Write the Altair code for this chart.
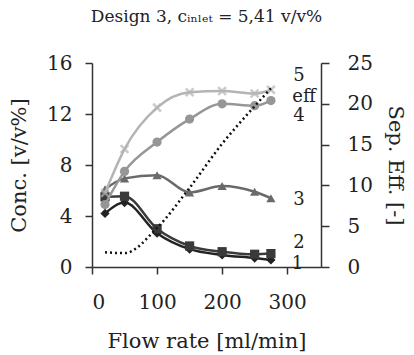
import altair as alt
import pandas as pd

flow = [20, 50, 100, 150, 200, 250, 275]
s1 = [4.2, 5.05, 2.65, 1.4, 0.95, 0.7, 0.55]
s2 = [5.5, 5.55, 3.0, 1.65, 1.2, 1.0, 1.05]
s3 = [6.1, 6.95, 7.2, 5.85, 6.35, 5.9, 5.4]
s4 = [4.9, 7.5, 9.8, 11.6, 12.8, 12.65, 13.05]
s5 = [5.8, 9.25, 12.5, 13.7, 13.8, 13.6, 13.9]
eff = [1.8, 1.7, 4.8, 9.7, 15.1, 19.7, 21.9]

label_text = ["5", "eff", "4", "3", "2", "1"]
label_x = [318, 326, 318, 318, 318, 316]
label_y = [14.95, 13.35, 11.85, 5.25, 1.85, 0.25]

FONT = "DejaVu Serif"

series = [
    ("1", s1, "#222222", "diamond"),
    ("2", s2, "#3a3a3a", "square"),
    ("3", s3, "#6a6a6a", "triangle-up"),
    ("4", s4, "#969696", "circle"),
    ("5", s5, "#b4b4b4", "M-1,-1L1,1M-1,1L1,-1"),
]

xscale = alt.Scale(domain=[0, 352], nice=False)
yl = alt.Scale(domain=[0, 16], nice=False)
yr = alt.Scale(domain=[0, 25], nice=False)

xaxis = alt.Axis(values=[0, 100, 200, 300], title="Flow rate [ml/min]", grid=False,
                 tickSize=7, labelPadding=18, titlePadding=18)
yaxis_l = alt.Axis(values=[0, 4, 8, 12, 16], title="Conc. [v/v%]", grid=False,
                   tickSize=7, labelPadding=13, titlePadding=17, orient="left")
yaxis_r = alt.Axis(values=[0, 5, 10, 15, 20, 25], title="Sep. Eff. [-]", grid=False,
                   tickSize=8, labelPadding=18, titlePadding=12, orient="right")

X = lambda f: alt.X(f, scale=xscale, axis=xaxis)
YL = lambda f: alt.Y(f, scale=yl, axis=yaxis_l)

layers = []
for name, vals, color, shape in series:
    df = pd.DataFrame({"flow": flow, "conc": vals})
    base = alt.Chart(df)
    line = base.mark_line(color=color, strokeWidth=2.5, interpolate="monotone").encode(
        x=X("flow:Q"), y=YL("conc:Q"))
    if name == "5":
        pts = base.mark_point(shape=shape, color=color, filled=False, strokeWidth=2.5, size=60).encode(
            x=X("flow:Q"), y=YL("conc:Q"))
    else:
        pts = base.mark_point(shape=shape, color=color, filled=True, opacity=1, size=85).encode(
            x=X("flow:Q"), y=YL("conc:Q"))
    layers += [line, pts]

lab_df = pd.DataFrame({"flow": label_x, "conc": label_y, "t": label_text})
labels = alt.Chart(lab_df).mark_text(font=FONT, fontSize=18, color="#222222", align="center",
                                     baseline="middle").encode(
    x=X("flow:Q"), y=YL("conc:Q"), text="t:N")
layers.append(labels)

left = alt.layer(*layers)

eff_df = pd.DataFrame({"flow": flow, "eff": eff})
right = alt.Chart(eff_df).mark_line(color="#111111", strokeWidth=2.5, strokeDash=[2, 3],
                                    interpolate="monotone").encode(
    x=X("flow:Q"),
    y=alt.Y("eff:Q", scale=yr, axis=yaxis_r))

chart = alt.layer(left, right).resolve_scale(y="independent").properties(
    width=229, height=204,
    autosize=alt.AutoSizeParams(type="none"),
    padding={"left": 92, "top": 63, "right": 93, "bottom": 88},
    title=alt.Title("Design 3, cᵢₙₗₑₜ = 5,41 v/v%", font=FONT, fontSize=17, fontWeight="normal",
                    color="#222222", anchor="middle", offset=27),
).configure_view(stroke=None).configure_axis(
    labelFont=FONT, titleFont=FONT, labelFontSize=20, titleFontSize=21,
    labelColor="#222222", titleColor="#222222", titleFontWeight="normal",
    domainColor="#333333", tickColor="#333333", domainWidth=1.5, tickWidth=1.5,
)

chart.save("out.html", embed_options={"renderer": "svg", "actions": False})
